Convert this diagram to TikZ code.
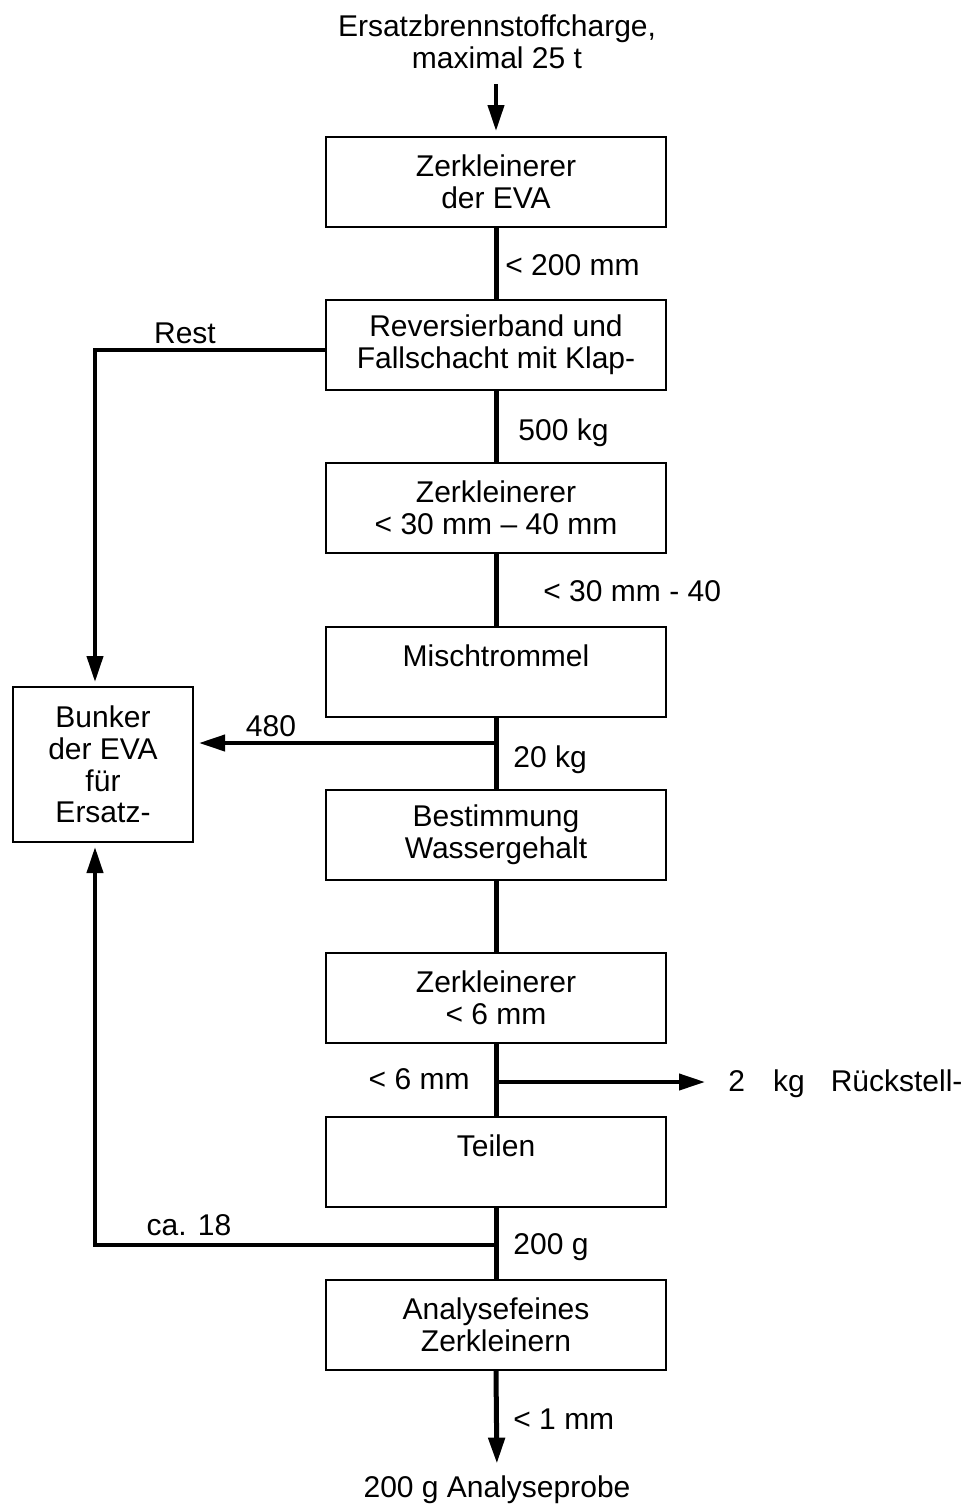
\documentclass[tikz,border=0pt]{standalone}
\usepackage{fontspec}
\setmainfont{Liberation Sans}
\usetikzlibrary{arrows.meta}
\begin{document}
\begin{tikzpicture}[x=0.5pt,y=-0.5pt,
  txt/.style={font=\fontsize{15}{16}\selectfont},
  box/.style={draw,line width=1pt,minimum width=170pt,minimum height=45pt,inner sep=0pt,align=center,txt},
  lbl/.style={inner sep=0pt,align=center,txt},
  flow/.style={line width=2.5pt},
  branch/.style={line width=2pt},
  arr/.style={-{Triangle[length=13pt,width=8pt]}}
]
\useasboundingbox (0,0) rectangle (968,1506);

\node[lbl] (top) at (497,42) {Ersatzbrennstoffcharge,\\maximal 25 t};
\coordinate (t0) at (496,84);

\node[box] (b1) at (496,182) {Zerkleinerer\\der EVA};
\node[box] (b2) at (496,345) {Reversierband und\\Fallschacht mit Klap-};
\node[box] (b3) at (496,508) {Zerkleinerer\\< 30 mm -- 40 mm};
\node[box] (b4) at (496,672) {Mischtrommel\\\mbox{}};
\node[box] (b5) at (496,835) {Bestimmung\\Wassergehalt};
\node[box] (b6) at (496,998) {Zerkleinerer\\< 6 mm};
\node[box] (b7) at (496,1162) {Teilen\\\mbox{}};
\node[box] (b8) at (496,1325) {Analysefeines\\Zerkleinern};
\node[draw,line width=1pt,minimum width=90pt,minimum height=77.5pt,inner sep=0pt,align=center,font=\fontsize{15}{15.8}\selectfont] (bunker) at (103,764.5) {Bunker\\der EVA\\für\\Ersatz-};

\node[lbl] (out) at (497,1490) {200 g Analyseprobe};
\node[lbl,anchor=west] (rs) at (728,1084) {2\hspace{14pt}kg\hspace{13pt}Rückstell-};

% labels
\node[lbl,anchor=west] (l1) at (505,265) {< 200 mm};
\node[lbl] (l2) at (185,333) {Rest};
\node[lbl,anchor=west] (l3) at (518,433) {500 kg};
\node[lbl,anchor=west] (l4) at (543,591) {< 30 mm - 40};
\node[lbl] (l5) at (271,726) {480};
\node[lbl,anchor=west] (l6) at (513,760) {20 kg};
\node[lbl,anchor=east] (l7) at (470,1079) {< 6 mm};
\node[lbl] (l8) at (189,1225) {ca. 18};
\node[lbl,anchor=west] (l9) at (513,1247) {200 g};
\node[lbl,anchor=west] (l10) at (513,1419) {< 1 mm};

% main flow
\draw[branch,arr,shorten >=2.5pt] (t0) -- (b1.north);
\draw[flow] (b1.south) -- (b2.north);
\draw[flow] (b2.south) -- (b3.north);
\draw[flow] (b3.south) -- (b4.north);
\draw[flow] (b4.south) -- (b5.north);
\draw[flow] (b5.south) -- (b6.north);
\draw[flow] (b6.south) -- (b7.north);
\draw[flow] (b7.south) -- (b8.north);
\draw[flow,arr,shorten >=6pt] (b8.south) -- (out.north);

% branches
\coordinate (j1) at (496,743);
\coordinate (j2) at (496,1082);
\coordinate (j3) at (496,1245);
\coordinate (e2) at (705,1082);
\draw[branch,arr,shorten >=2pt] ([yshift=-2.5pt]b2.west) -| ([xshift=-4pt]bunker.north);
\draw[branch,arr,shorten >=2.5pt] (j1) -- (bunker.east |- j1);
\draw[branch,arr] (j2) -- (e2);
\draw[branch,arr,shorten >=2pt] (j3) -| ([xshift=-4pt]bunker.south);
\end{tikzpicture}
\end{document}
